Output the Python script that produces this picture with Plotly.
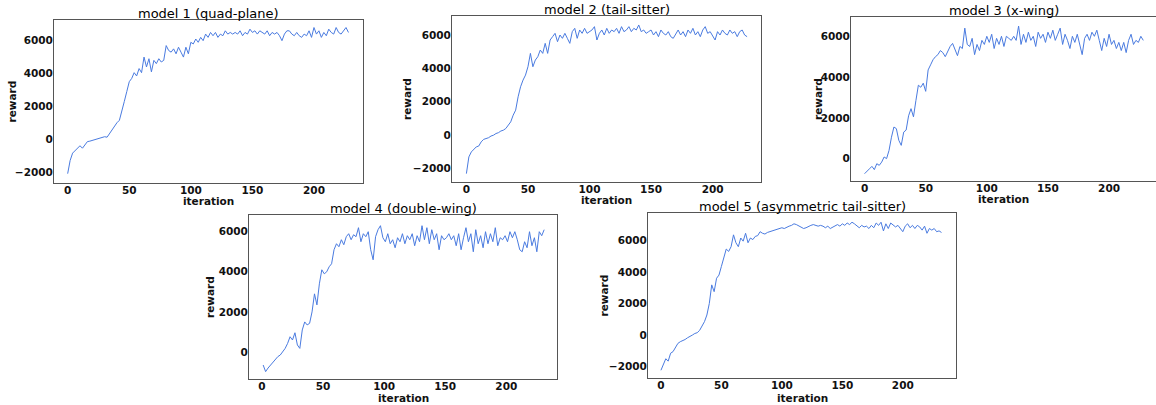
import plotly.graph_objects as go

W, H = 1156, 405

titles = ["model 1 (quad-plane)", "model 2 (tail-sitter)", "model 3 (x-wing)",
          "model 4 (double-wing)", "model 5 (asymmetric tail-sitter)"]

# iterations sampled every 2 steps
iter_m1 = list(range(0, 229, 2))
reward_m1 = [-2100, -1300, -850, -700, -550, -400, -550, -350, -150, -120, -80, -30, 20, 60, 100, 150,
             120, 350, 580, 850, 1000, 1150, 1650, 2300, 2900, 3500, 3700, 4050, 3850, 4300, 4050, 5000,
             4400, 4900, 4100, 4800, 4600, 4900, 4700, 4800, 5700, 5400, 5300, 5500, 5200, 5600, 5300, 5000,
             5600, 5200, 5900, 5800, 6100, 5900, 6200, 6000, 6400, 6200, 6500, 6300, 6500, 6200, 6400, 6300,
             6600, 6400, 6500, 6400, 6500, 6400, 6600, 6300, 6500, 6400, 6700, 6500, 6600, 6400, 6600, 6500,
             6400, 6600, 6300, 6500, 6400, 6500, 6300, 6000, 6400, 6600, 6600, 6400, 6300, 6500, 6300, 6200,
             6400, 6300, 6600, 6200, 6800, 6400, 6600, 6200, 6500, 6300, 6700, 6500, 6400, 6800, 6500, 6400,
             6600, 6800, 6500]

iter_m2 = list(range(0, 229, 2))
reward_m2 = [-2300, -1300, -1000, -850, -700, -650, -400, -250, -200, -150, -50, 0, 100, 150, 250, 300,
             400, 600, 800, 1200, 1500, 2300, 2900, 3300, 3600, 4100, 4900, 4100, 4500, 4700, 5100, 4900,
             5500, 4900, 5700, 5900, 6100, 5600, 6000, 5800, 6100, 5800, 5500, 6200, 6400, 5800, 6300, 6100,
             6400, 6100, 6200, 6300, 6500, 5700, 6100, 6300, 6000, 6400, 6100, 6300, 6200, 6400, 6100, 6500,
             6200, 6300, 6500, 6200, 6400, 6300, 6600, 6200, 6300, 6100, 6200, 6300, 6000, 6200, 5900, 6300,
             6100, 6000, 6200, 5900, 5800, 6100, 6300, 6000, 6200, 5900, 6300, 6100, 6400, 6000, 6200, 5900,
             6300, 6500, 6100, 6200, 5900, 5700, 6200, 6000, 6300, 6100, 6000, 6300, 6100, 6200, 5900, 6200,
             6300, 6000, 5900]

iter_m3 = list(range(0, 229, 2))
reward_m3 = [-740, -600, -500, -380, -540, -250, -330, -170, 80, 0, 400, 1050, 1550, 1470, 900, 650,
             1300, 1400, 2100, 2450, 2050, 2850, 3600, 3500, 3700, 3300, 4350, 4600, 4850, 5000, 5100, 5300,
             5200, 5000, 5300, 5500, 5650, 5300, 5050, 5500, 5400, 6400, 5600, 5500, 5900, 5100, 5600, 5300,
             5800, 5600, 6000, 5700, 6100, 5400, 5900, 5600, 6000, 5500, 6000, 5900, 5800, 6000, 5800, 6500,
             5600, 6100, 5700, 6200, 5800, 6000, 5500, 6200, 5900, 6100, 5700, 6200, 5900, 6300, 5800, 6100,
             6400, 5600, 6100, 5800, 5400, 6000, 5700, 6100, 5600, 5100, 5900, 6100, 5800, 6200, 6000, 6300,
             5800, 5300, 5900, 5500, 6100, 5600, 5800, 5400, 5700, 5300, 5700, 5200, 5800, 6100, 5600, 5800,
             5700, 6000, 5800]

iter_m4 = list(range(1, 232, 2))
reward_m4 = [-650, -980, -800, -650, -550, -400, -230, -150, 20, 180, 430, 760, 600, 960, 350, 180,
             1100, 1500, 1350, 1430, 2000, 2900, 2350, 3400, 4100, 3900, 4000, 4250, 4400, 5100, 5400, 5250,
             5600, 5350, 5750, 5900, 5600, 5850, 5750, 6200, 5500, 5900, 5750, 6000, 5100, 4600, 5750, 6100,
             6300, 5700, 5500, 5900, 5400, 5600, 5200, 5700, 5500, 5900, 5400, 5800, 5600, 5900, 5300, 5800,
             5500, 6300, 5600, 6200, 5400, 6100, 5600, 5900, 5100, 5800, 5600, 5700, 5900, 5600, 5800, 5300,
             5900, 5100, 5700, 6200, 5500, 5900, 5000, 6100, 5400, 5800, 5200, 6000, 5400, 5900, 5500, 6200,
             5300, 5700, 5600, 5800, 5500, 6000, 5700, 6000, 5600, 5100, 5000, 5500, 5200, 6000, 5300, 5700,
             5000, 6000, 5800, 6100]

iter_m5 = list(range(0, 233, 2))
reward_m5 = [-2230, -1800, -1500, -1650, -1150, -1050, -750, -530, -420, -360, -280, -170, -100, 0, 100, 150,
             300, 570, 850, 1270, 2000, 3180, 2750, 3600, 3800, 4350, 4900, 5450, 5300, 5600, 6350, 5850,
             5600, 6150, 5950, 6450, 5850, 6150, 6050, 6250, 6300, 6550, 6450, 6400, 6500, 6550, 6600, 6650,
             6700, 6750, 6800, 6750, 6850, 6900, 6950, 7050, 7000, 6900, 6850, 6750, 6800, 6900, 6950, 7000,
             6950, 6900, 6950, 6900, 6800, 6900, 6750, 6850, 6950, 7000, 6900, 7050, 6950, 7100, 7000, 7150,
             7050, 6900, 6800, 6950, 6850, 6900, 6750, 6950, 6800, 7100, 6950, 7150, 6600, 7050, 6750, 7100,
             7000, 6850, 6950, 6750, 6550, 6900, 7050, 6800, 6950, 6750, 6950, 6850, 6650, 6900, 6450, 6750,
             6650, 6750, 6550, 6600, 6500]

xtick_vals = [0, 50, 100, 150, 200]
ytick_vals_a = [-2000, 0, 2000, 4000, 6000]
ytick_vals_b = [0, 2000, 4000, 6000]

series = [
    (iter_m1, reward_m1, ytick_vals_a),
    (iter_m2, reward_m2, ytick_vals_a),
    (iter_m3, reward_m3, ytick_vals_b),
    (iter_m4, reward_m4, ytick_vals_b),
    (iter_m5, reward_m5, ytick_vals_a),
]

# layout: pixel boxes (left, right, top, bottom) and axis ranges
boxes = [(54, 363, 20, 183), (452, 761, 16, 182), (851, 1156, 17, 181),
         (249, 557, 215, 379), (648, 956, 213, 378)]
xranges = [(-11.1, 239.8), (-11.7, 239.3), (-11.1, 238.4), (-10.6, 241.5), (-10.7, 244.0)]
yranges = [(-2669, 7258), (-2802, 7138), (-1098, 6946), (-1347, 6833), (-2720, 7734)]
reward_label_x = [11, 407, 818, 210, 603]
iter_label_y = [201, 200, 199, 398, 398]

fig = go.Figure()
layout = dict(width=W, height=H, margin=dict(l=0, r=0, t=0, b=0, autoexpand=False),
              paper_bgcolor="white", plot_bgcolor="white", showlegend=False,
              font=dict(family="DejaVu Sans", color="#111"))
annotations = []

def fmt(v):
    return ("\u2212" + str(-v)) if v < 0 else str(v)

for i, ((xs, ys, yt), (l, r, t, b)) in enumerate(zip(series, boxes)):
    n = "" if i == 0 else str(i + 1)
    fig.add_trace(go.Scatter(x=xs, y=ys, mode="lines", xaxis="x" + n, yaxis="y" + n,
                             line=dict(color="#4a7be0", width=1)))
    axstyle = dict(showline=True, linecolor="#555", linewidth=1, mirror=True, showgrid=False,
                   zeroline=False, ticks="", automargin=False,
                   tickfont=dict(family="DejaVu Sans", size=10.5, color="#111", weight="bold"))
    layout["xaxis" + n] = dict(domain=[l / W, min(r / W, 1.0)], range=list(xranges[i]),
                               anchor="y" + n, tickvals=xtick_vals, ticklabelstandoff=-3,
                               ticktext=[str(v) for v in xtick_vals], **axstyle)
    layout["yaxis" + n] = dict(domain=[1 - b / H, 1 - t / H], range=list(yranges[i]),
                               anchor="x" + n, tickvals=yt, ticklabelstandoff=-2,
                               ticktext=[fmt(v) for v in yt], **axstyle)
    cx = (l + min(r, W)) / 2
    annotations.append(dict(text=titles[i], x=cx / W, y=1 - t / H, xref="paper", yref="paper",
                            xanchor="center", yanchor="bottom", showarrow=False, yshift=-3,
                            font=dict(size=13, color="#000")))
    annotations.append(dict(text="reward", x=reward_label_x[i] / W, y=1 - (t + b) / 2 / H,
                            xref="paper", yref="paper", xanchor="center", yanchor="middle",
                            textangle=-90, showarrow=False,
                            font=dict(size=10.5, color="#111", weight="bold")))
    annotations.append(dict(text="iteration", x=cx / W, y=1 - iter_label_y[i] / H,
                            xref="paper", yref="paper", xanchor="center", yanchor="middle",
                            showarrow=False, font=dict(size=10.5, color="#111", weight="bold")))

layout["annotations"] = annotations
fig.update_layout(**layout)
fig.write_html("out.html", config={"displayModeBar": False},
               post_script="document.body.style.margin='0px';document.body.style.overflow='hidden';")
